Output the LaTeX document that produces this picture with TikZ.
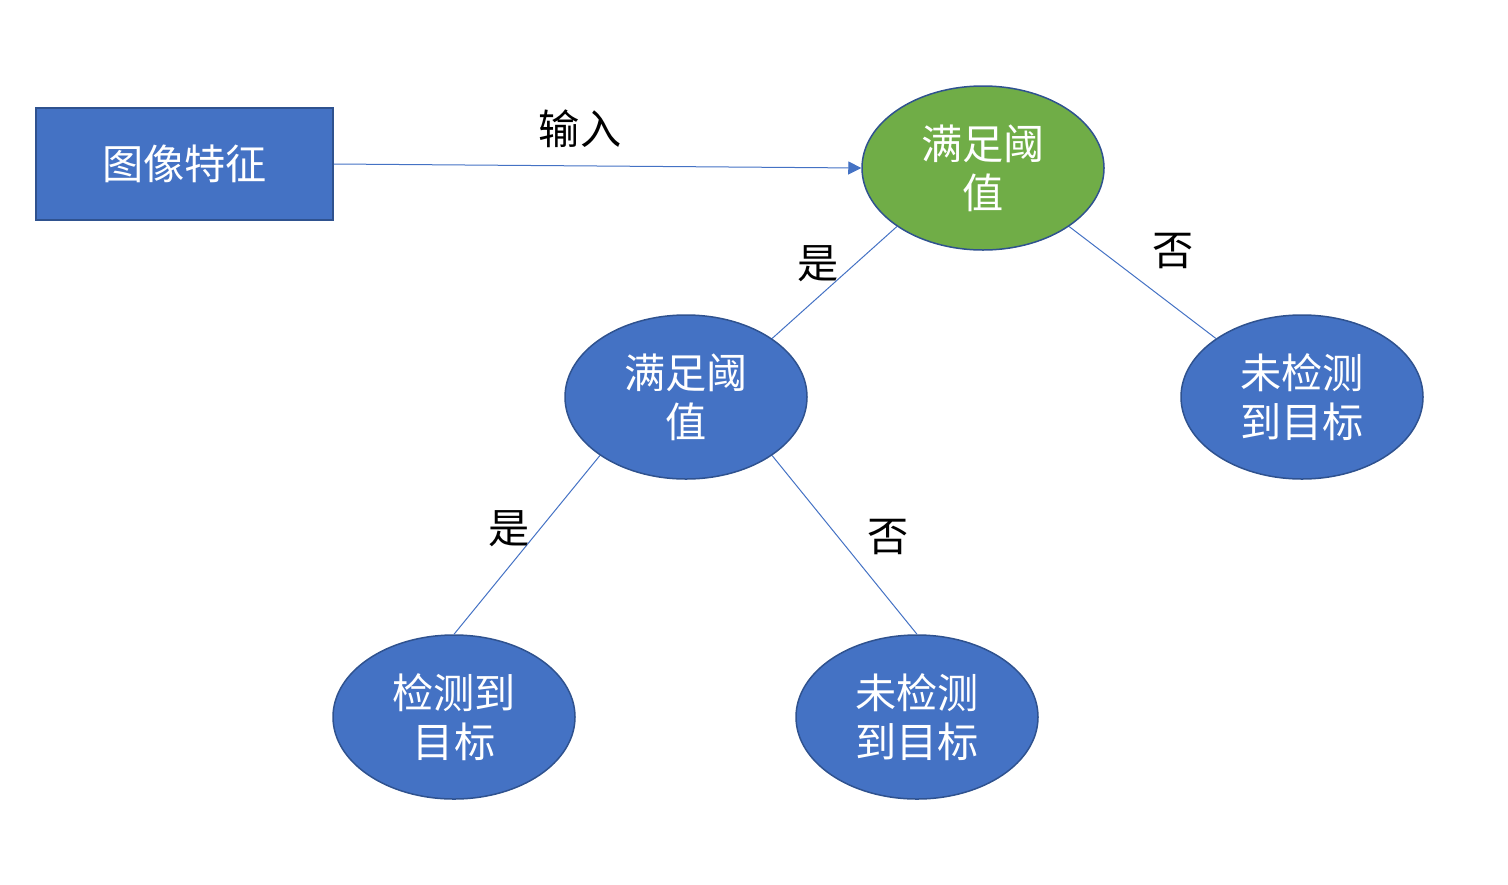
\documentclass[tikz,border=0pt]{standalone}
\usepackage{fontspec}
\newfontfamily\cjk{Noto Sans CJK SC}
\usetikzlibrary{arrows.meta,shapes.geometric}
\definecolor{boxblue}{HTML}{4472C4}
\definecolor{edgeblue}{HTML}{2F528F}
\definecolor{leafgreen}{HTML}{70AD47}
\tikzset{
	cjktext/.style={font=\cjk\fontsize{20.6}{24.5}\selectfont},
	decision/.style={ellipse,draw=edgeblue,line width=.75pt,fill=boxblue,text=white,
		minimum width=121pt,minimum height=82pt,inner sep=0pt,align=center,cjktext},
	link/.style={draw=boxblue,line width=.5pt},
	lbl/.style={cjktext,inner sep=0pt}
}
\begin{document}
\begin{tikzpicture}[x=.5pt,y=-.5pt]
			\useasboundingbox (0,0) rectangle (1508,884);
			\node[draw=edgeblue,line width=.75pt,fill=boxblue,text=white,cjktext,
				minimum width=148.5pt,minimum height=56pt,inner sep=0pt] (feat) at (184.5,164) {图像特征};
			
			\node[decision,fill=leafgreen] (root) at (983,168) {满足阈\\值};
			\node[decision] (mid) at (686,397) {满足阈\\值};
			\node[decision] (miss) at (1302,397) {未检测\\到目标};
			\node[decision] (hit) at (454,717) {检测到\\目标};
			\node[decision] (miss2) at (917,717) {未检测\\到目标};
			
			\draw[link,-{Triangle[length=6.5pt,width=6.5pt]}] (feat.east) -- (root.west);
			\node[lbl] (inlbl) at (580,129) {输入};
			
			\draw[link] (root.south west) -- (mid.north east); \node[lbl] (yes1) at (818,264) {是};
			\draw[link] (root.south east) -- (miss.north west); \node[lbl] (no1) at (1173,251) {否};
			\draw[link] (mid.south west) -- (hit.north); \node[lbl] (yes2) at (509,529) {是};
			\draw[link] (mid.south east) -- (miss2.north); \node[lbl] (no2) at (888,537) {否};
\end{tikzpicture}
\end{document}
